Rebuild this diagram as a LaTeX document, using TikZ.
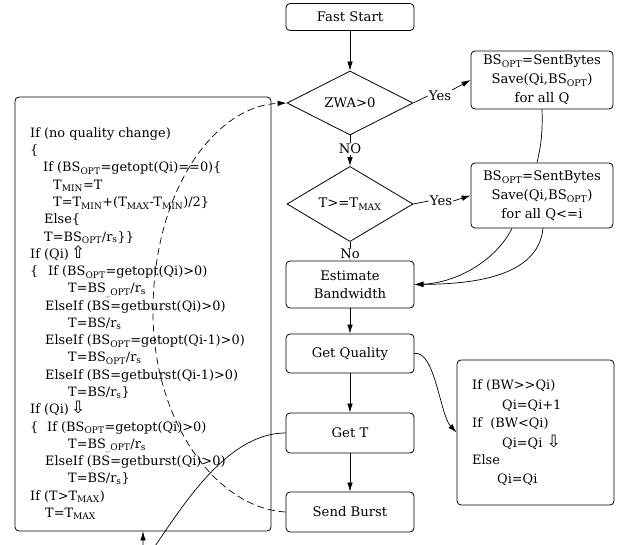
\documentclass[tikz,border=0pt]{standalone}
\usepackage{fontspec}
\setmainfont{DejaVu Serif}
\newfontfamily\symfont{DejaVu Sans}
\usetikzlibrary{shapes.geometric,arrows.meta,calc}
\newcommand\subs[1]{\textsubscript{#1}}
\newcommand\upar{{\symfont\fontsize{17}{17}\selectfont ⇧}}
\newcommand\dnar{{\symfont\fontsize{17}{17}\selectfont ⇩}}
\begin{document}
\begin{tikzpicture}[x=1pt,y=-1pt,
  font=\fontsize{13.2}{19}\selectfont,
  box/.style={draw, rounded corners=4pt, line width=0.8pt, inner sep=0pt, align=center},
  dia/.style={draw, diamond, line width=0.8pt, inner sep=0pt},
  arr/.style={-{Latex[length=9pt,width=5.5pt]}, line width=0.7pt},
  ln/.style={line width=0.7pt},
  code/.style={anchor=base west, inner sep=0pt, font=\fontsize{12.9}{17}\selectfont},
  lbl/.style={fill=white, inner sep=1pt}]
\useasboundingbox (0,0) rectangle (622,545);
\clip (0,0) rectangle (622,545);
\fill[white] (0,0) rectangle (622,545);

% flow boxes
\node[box, minimum width=128pt, minimum height=27pt] (fs) at (350,17) {Fast Start};
\node[dia, minimum width=126pt, minimum height=64pt] (zwa) at (350,103) {ZWA>0};
\node[dia, minimum width=126pt, minimum height=58pt] (tmax) at (350,204) {T>=T\subs{MAX}};
\node[box, minimum width=142pt, minimum height=58pt] (b1) at (542,80) {BS\subs{OPT}=SentBytes\\Save(Qi,BS\subs{OPT})\\for all Q};
\node[box, minimum width=142pt, minimum height=65pt] (b2) at (542,195.5) {BS\subs{OPT}=SentBytes\\Save(Qi,BS\subs{OPT})\\for all Q<=i};
\node[box, minimum width=128pt, minimum height=47pt, font=\fontsize{13.2}{18}\selectfont] (est) at (350,284.5) {Estimate\\Bandwidth};
\node[box, minimum width=128pt, minimum height=39pt] (gq) at (350,353.5) {Get Quality};
\node[box, minimum width=128pt, minimum height=40pt] (gt) at (350,433) {Get T};
\node[box, minimum width=128pt, minimum height=40pt] (sb) at (350,512) {Send Burst};
\node[box, minimum width=157pt, minimum height=145pt] (rb) at (535.5,432.5) {};
\node[box, minimum width=256pt, minimum height=434pt] (lb) at (143,314) {};

% right box text
\node[code] (r1) at (472,389.5) {If (BW>{}>Qi)};
\node[code] (r2) at (502,409.5) {Qi=Qi+1};
\node[code] (r3) at (472,427.5) {If\ \ (BW<Qi)};
\node[code] (r4) at (502,447.5) {Qi=Qi \dnar};
\node[code] (r5) at (472,464.5) {Else};
\node[code] (r6) at (497,483.5) {Qi=Qi};

% left box text
\node[code] (l1) at (30,137.5) {If (no quality change)};
\node[code] (l2) at (30,154.8) {\{};
\node[code] (l3) at (43,172.0) {If (BS\subs{OPT}=getopt(Qi)==0)\{};
\node[code] (l4) at (53,189.3) {T\subs{MIN}=T};
\node[code] (l5) at (53,206.6) {T=T\subs{MIN}+(T\subs{MAX}-T\subs{MIN})/2\}};
\node[code] (l6) at (44,223.9) {Else\{};
\node[code] (l7) at (44,241.1) {T=BS\subs{OPT}/r\subs{s}\}\}};
\node[code] (l8) at (30,258.4) {If (Qi)\,\upar};
\node[code] (l9a) at (30,275.7) {\{};
\node[code] (l9) at (48,275.7) {If (BS\subs{OPT}=getopt(Qi)>0)};
\node[code] (l10) at (68,292.9) {T=BS\subs{\_OPT}/r\subs{s}};
\node[code] (l11) at (45,310.2) {ElseIf (BS=getburst(Qi)>0)};
\node[code] (l12) at (68,327.5) {T=BS/r\subs{s}};
\node[code] (l13) at (45,344.8) {ElseIf (BS\subs{OPT}=getopt(Qi-1)>0)};
\node[code] (l14) at (68,362.0) {T=BS\subs{OPT}/r\subs{s}};
\node[code] (l15) at (45,379.3) {ElseIf (BS=getburst(Qi-1)>0)};
\node[code] (l16) at (68,396.6) {T=BS/r\subs{s}\}};
\node[code] (l17) at (30,413.8) {If (Qi)\,\dnar};
\node[code] (l18a) at (30,431.1) {\{};
\node[code] (l18) at (47,431.1) {If (BS\subs{OPT}=getopt(Qi)>0)};
\node[code] (l19) at (68,448.4) {T=BS\subs{\_OPT}/r\subs{s}};
\node[code] (l20) at (45,465.7) {ElseIf (BS=getburst(Qi)>0)};
\node[code] (l21) at (68,482.9) {T=BS/r\subs{s}\}};
\node[code] (l22) at (30,500.2) {If (T>T\subs{MAX})};
\node[code] (l23) at (45,517.5) {T=T\subs{MAX}};

% labels
\node[inner sep=1pt] (y1) at (440,96) {Yes};
\node[inner sep=1pt] (y2) at (441,201) {Yes};

% connectors
\draw[arr] (fs) -- (zwa);
\draw[arr] (zwa) -- node[lbl, pos=0.45] {NO} (tmax);
\draw[arr] (tmax) -- node[lbl, pos=0.62] {No} (est);
\draw[ln] (zwa.east) -- (y1.west);
\draw[arr] (y1.north east) -- (b1.west);
\draw[ln] (tmax.east) -- (y2.west);
\draw[arr] (y2.east) -- (b2.west);
\draw[ln] (b1.south) .. controls (543,135) and (540,150) .. ($(b2.north)+(-5,0)$);
\draw[arr] ($(b2.south)+(-30,0)$) .. controls (495,262) and (455,283) .. (est.east);
\draw[arr] ($(b2.south)+(1,0)$) .. controls (538,278) and (470,284) .. (est.east);
\draw[arr] (est) -- (gq);
\draw[arr] (gq) -- (gt);
\draw[arr] (gt) -- (sb);
\draw[arr] (gq.east) .. controls (435,350) and (440,415) .. (rb.west);
\coordinate (lowpt) at (143,563);
\draw[arr] (gt.west) .. controls (220,433) and (172,525) .. (lowpt) -- (lb.south);
\coordinate (dmid) at (153,312);
\draw[arr, dash pattern=on 7pt off 4pt] (sb.west) .. controls (215,508) and (153,420) .. (dmid) .. controls (153,190) and (215,106) .. (zwa.west);
\end{tikzpicture}
\end{document}
